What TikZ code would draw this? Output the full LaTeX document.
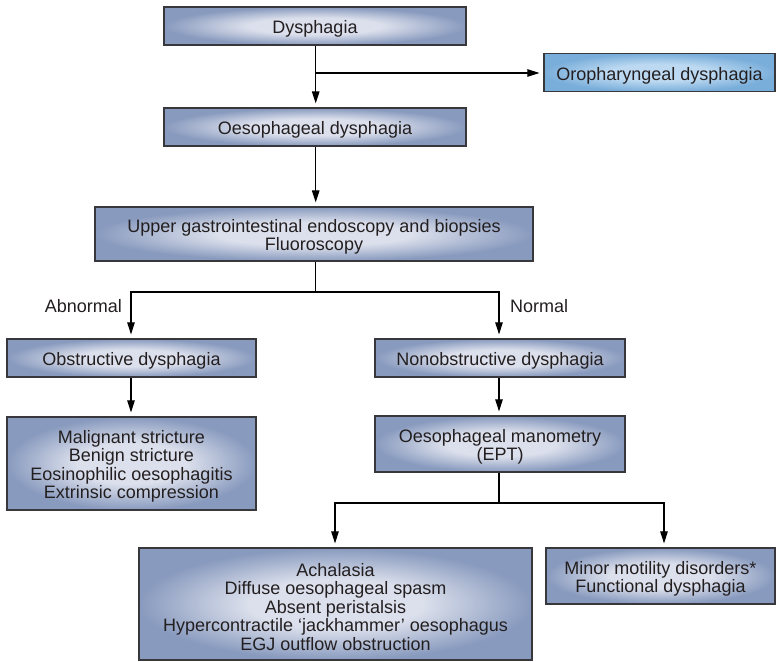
\documentclass[tikz,border=0pt]{standalone}
\usepackage{fontspec}
\setmainfont{Liberation Sans}
\usetikzlibrary{arrows.meta,positioning}
\definecolor{boxout}{RGB}{136,154,190}
\definecolor{boxin}{RGB}{220,224,236}
\definecolor{oroout}{RGB}{122,174,218}
\definecolor{oroin}{RGB}{188,217,241}
\definecolor{edgecol}{RGB}{55,55,60}
\definecolor{txt}{RGB}{35,31,32}
\newcommand{\toppad}{\rule{0pt}{19pt}}
\pgfdeclareradialshading{boxshade}{\pgfpoint{0bp}{0bp}}{color(0bp)=(boxin); color(11bp)=(boxin); color(25bp)=(boxout); color(50bp)=(boxout)}
\pgfdeclareradialshading{oroshade}{\pgfpoint{0bp}{0bp}}{color(0bp)=(oroin); color(11bp)=(oroin); color(25bp)=(oroout); color(50bp)=(oroout)}
\tikzset{
  flowbox/.style={draw=edgecol, line width=1.2pt, shading=boxshade, rectangle, inner sep=0pt,
    font=\fontsize{18}{18.5}\selectfont, text=txt, align=center},
  orobox/.style={flowbox, shading=oroshade},
  conn/.style={draw=black, line width=1.1pt},
  arr/.style={conn, -{Triangle[length=12pt,width=7.5pt]}, shorten >=4pt},
  lbl/.style={font=\fontsize{18}{18.5}\selectfont, text=txt, inner sep=0pt}
}
\begin{document}
\begin{tikzpicture}[x=1pt,y=-1pt]
\useasboundingbox (0,0) rectangle (776,661);
% boxes: center, width, height
\node[flowbox, minimum width=302pt, minimum height=38pt] (dys) at (315,26) {\toppad Dysphagia};
\node[orobox, minimum width=231pt, minimum height=38pt] (oro) at (659.5,72.5) {\toppad Oropharyngeal dysphagia};
\node[flowbox, minimum width=302pt, minimum height=38pt] (oes) at (315,127) {\toppad Oesophageal dysphagia};
\node[flowbox, minimum width=438pt, minimum height=54pt] (ugi) at (314,234) {\toppad Upper gastrointestinal endoscopy and biopsies\\Fluoroscopy};
\node[flowbox, minimum width=249pt, minimum height=38pt] (obs) at (131.5,358) {\toppad Obstructive dysphagia};
\node[flowbox, minimum width=250pt, minimum height=38pt] (non) at (500,358) {\toppad Nonobstructive dysphagia};
\node[flowbox, minimum width=249pt, minimum height=93pt] (mal) at (131.5,463.5) {\toppad Malignant stricture\\Benign stricture\\Eosinophilic oesophagitis\\Extrinsic compression};
\node[flowbox, minimum width=250pt, minimum height=56pt] (man) at (500,444) {\toppad Oesophageal manometry\\(EPT)};
\node[flowbox, minimum width=393pt, minimum height=112pt] (ach) at (335.5,604) {\toppad Achalasia\\Diffuse oesophageal spasm\\Absent peristalsis\\Hypercontractile ‘jackhammer’ oesophagus\\EGJ outflow obstruction};
\node[flowbox, minimum width=229pt, minimum height=56pt] (min) at (660.5,576) {\toppad Minor motility disorders*\\Functional dysphagia};
% labels
\node[lbl, anchor=east] (abn) at (122,306) {Abnormal};
\node[lbl, anchor=west] (nor) at (510,306) {Normal};
% junction coordinates
\coordinate (j1) at (315.7,73);
\coordinate (j2) at (315.7,292);
\coordinate (j2l) at (131,292);
\coordinate (j2r) at (499,292);
\coordinate (j3) at (499,503);
\coordinate (j3l) at (335,503);
\coordinate (j3r) at (664,503);
% connectors
\draw[arr] (dys.south -| j1) -- (oes.north -| j1);
\draw[arr] (j1) -- (oro.west |- j1);
\draw[arr] (oes.south -| j1) -- (ugi.north -| j1);
\draw[conn] (ugi.south -| j2) -- (j2);
\draw[arr] (j2l) -- (j2) -- (j2r) -- (non.north -| j2r);
\draw[arr] (j2) -- (j2l) -- (obs.north -| j2l);
\draw[arr] (obs.south -| j2l) -- (mal.north -| j2l);
\draw[arr] (non.south -| j2r) -- (man.north -| j2r);
\draw[conn] (man.south -| j3) -- (j3);
\draw[arr] (j3) -- (j3l) -- (ach.north -| j3l);
\draw[arr] (j3) -- (j3r) -- (min.north -| j3r);
\end{tikzpicture}
\end{document}
